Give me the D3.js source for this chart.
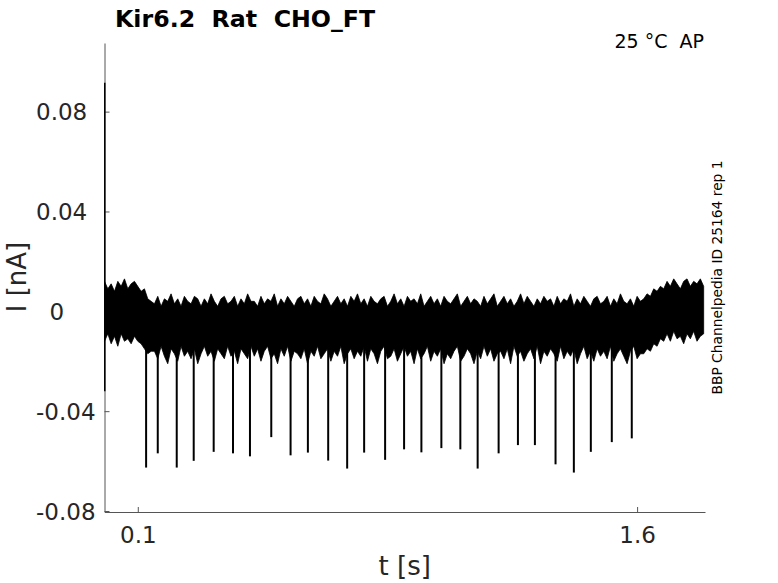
<!DOCTYPE html>
<html>
<head>
<meta charset="utf-8">
<script src="https://cdn.jsdelivr.net/npm/d3@7"></script>
<style>
  body { margin: 0; background: #fff; }
  text { font-family: "DejaVu Sans", sans-serif; fill: #262626; white-space: pre; }
</style>
</head>
<body>
<svg id="chart" width="778" height="583"></svg>
<script>
// noise envelope, one pair of values per 10 ms starting at t = 0
var bandDt = 0.01;
// upper edge of the noise band [pA]
var bandHi = [12, 9, 11, 8, 12, 10, 13, 9, 11, 12, 10,
  8, 9, 5, 4,
  3, 6, 2, 5, 4, 7, 3, 5, 2, 6, 4, 3, 6, 5, 2,
  5, 3, 7, 4, 2, 5, 6, 3, 4, 6, 2, 5, 3, 7, 4,
  4, 2, 6, 3, 5, 4, 7, 2, 5, 3, 6, 4, 2, 5, 6,
  3, 5, 2, 6, 4, 3, 7, 5, 2, 4, 6, 3, 5, 2, 6,
  4, 7, 3, 5, 2, 6, 4, 3, 5, 6, 2, 4, 7, 3, 5,
  2, 6, 4, 5, 3, 7, 2, 4, 6, 3, 5, 2, 6, 4, 3,
  5, 7, 2, 4, 6, 3, 5, 4, 2, 6, 3, 5, 7, 2, 4,
  6, 3, 5, 2, 4, 7, 3, 6, 4, 2, 5, 3, 6, 4, 5,
  2, 6, 3, 5, 4, 7, 2, 5, 3, 6, 4, 2, 5, 6, 3,
  4, 6, 2, 5, 3, 7, 4, 3, 5, 2, 6, 4,
  5, 7, 6, 9, 8, 10, 9,
  12, 10, 13, 11, 9, 12, 13, 10, 12, 11, 13, 10];
// lower edge of the noise band [pA]
var bandLo = [-12, -9, -13, -10, -14, -9, -12, -11, -13, -10, -12,
  -13, -15, -17, -16,
  -16, -19, -14, -18, -21, -15, -17, -20, -14, -18, -16, -19, -15, -21, -17,
  -14, -18, -16, -20, -15, -17, -19, -14, -18, -16, -21, -15, -17, -19, -14,
  -18, -15, -20, -16, -14, -19, -17, -21, -15, -18, -14, -20, -16, -17, -19,
  -15, -21, -16, -18, -14, -19, -17, -15, -20, -16, -18, -14, -21, -17, -15,
  -19, -16, -18, -14, -20, -15, -17, -21, -16, -14, -19, -18, -15, -20, -17,
  -14, -18, -16, -21, -15, -19, -17, -14, -20, -16, -18, -15, -21, -17, -19,
  -16, -14, -20, -18, -15, -17, -21, -16, -19, -14, -18, -15, -20, -17, -16,
  -19, -15, -21, -14, -18, -16, -20, -17, -15, -19, -14, -21, -16, -18, -15,
  -17, -20, -14, -19, -16, -18, -15, -21, -17, -14, -19, -16, -20, -15, -18,
  -16, -19, -14, -20, -17, -15, -18, -21, -16, -14, -19, -17,
  -17, -15, -16, -13, -14, -11, -12,
  -9, -12, -8, -11, -10, -13, -9, -11, -8, -12, -10, -9];

// inward current spikes: time [s] and peak [nA]
var spikeT = [0.125, 0.160, 0.217, 0.268, 0.328, 0.386, 0.437, 0.501, 0.559,
  0.611, 0.672, 0.729, 0.780, 0.843, 0.900, 0.952, 1.012, 1.069, 1.121,
  1.184, 1.242, 1.293, 1.355, 1.410, 1.461, 1.524, 1.584];
var spikeI = [-0.0626, -0.0569, -0.0626, -0.0599, -0.0563, -0.0569, -0.0581, -0.0504, -0.0577,
  -0.0566, -0.0598, -0.0630, -0.0566, -0.0595, -0.0553, -0.0565, -0.0548, -0.0553, -0.0630,
  -0.0569, -0.0536, -0.0536, -0.0613, -0.0646, -0.0563, -0.0524, -0.0509];

// capacitive artifact at the start [nA]
var artifactT = 0.0008;
var artifactI = [0.0916, -0.032];

var xTicks = [0.1, 1.6];
var yTicks = [-0.08, -0.04, 0, 0.04, 0.08];

var plotL = 104.5, plotR = 705, plotT = 43, plotB = 512;

var x = d3.scaleLinear().domain([0, 1.804]).range([plotL, plotR]);
var y = d3.scaleLinear().domain([-0.0804, 0.1075]).range([plotB, plotT]);

var svg = d3.select('#chart');

// axes
var gx = svg.append('g')
  .attr('transform', 'translate(0,' + plotB + ')')
  .call(d3.axisBottom(x).tickValues(xTicks).tickSizeInner(-5).tickSizeOuter(0)
    .tickFormat(d3.format('')));
gx.selectAll('text').attr('y', 31).attr('dy', 0).style('font-size', '23px');

var gy = svg.append('g')
  .attr('transform', 'translate(' + plotL + ',0)')
  .call(d3.axisLeft(y).tickValues(yTicks).tickSizeInner(-5).tickSizeOuter(0)
    .tickFormat(function(d) { return d === 0 ? '0' : d3.format('.2f')(d).replace('−', '-'); }));
gy.selectAll('text')
  .attr('text-anchor', 'start')
  .attr('x', function(d) { return d === 0 ? -55 : -68.5; })
  .attr('dy', '0.36em')
  .style('font-size', '23px');

svg.selectAll('.domain, .tick line').attr('stroke', '#555').attr('stroke-width', 1);

// trace
var band = d3.area()
  .x(function(d, i) { return x(i * bandDt); })
  .y0(function(d, i) { return y(bandLo[i] / 1000); })
  .y1(function(d) { return y(d / 1000); });

svg.append('path')
  .datum(bandHi)
  .attr('d', band)
  .attr('fill', '#000')
  .attr('stroke', '#000')
  .attr('stroke-width', 0.8);

svg.append('g').selectAll('line.spike')
  .data(spikeT)
  .enter()
  .append('line')
  .classed('spike', true)
  .attr('x1', function(d) { return x(d); })
  .attr('x2', function(d) { return x(d); })
  .attr('y1', y(-0.012))
  .attr('y2', function(d, i) { return y(spikeI[i]); })
  .attr('stroke', '#000')
  .attr('stroke-width', 2);

svg.append('line')
  .attr('x1', x(artifactT)).attr('x2', x(artifactT))
  .attr('y1', y(artifactI[0])).attr('y2', y(artifactI[1]))
  .attr('stroke', '#000')
  .attr('stroke-width', 1.5);

// texts
svg.append('text')
  .attr('x', 115).attr('y', 27)
  .style('font-size', '23.7px').style('font-weight', 'bold').style('fill', '#000')
  .text('Kir6.2  Rat  CHO_FT');

svg.append('text')
  .attr('x', 704).attr('y', 48)
  .attr('text-anchor', 'end')
  .style('font-size', '19px').style('fill', '#000')
  .text('25 °C  AP');

svg.append('text')
  .attr('transform', 'translate(721.5,277.5) rotate(-90)')
  .attr('text-anchor', 'middle')
  .style('font-size', '13.8px').style('fill', '#000')
  .text('BBP Channelpedia ID 25164 rep 1');

svg.append('text')
  .attr('x', (plotL + plotR) / 2).attr('y', 575)
  .attr('text-anchor', 'middle')
  .style('font-size', '26px')
  .text('t [s]');

svg.append('text')
  .attr('transform', 'translate(26,277) rotate(-90)')
  .attr('text-anchor', 'middle')
  .style('font-size', '26px')
  .text('I [nA]');
</script>
</body>
</html>
